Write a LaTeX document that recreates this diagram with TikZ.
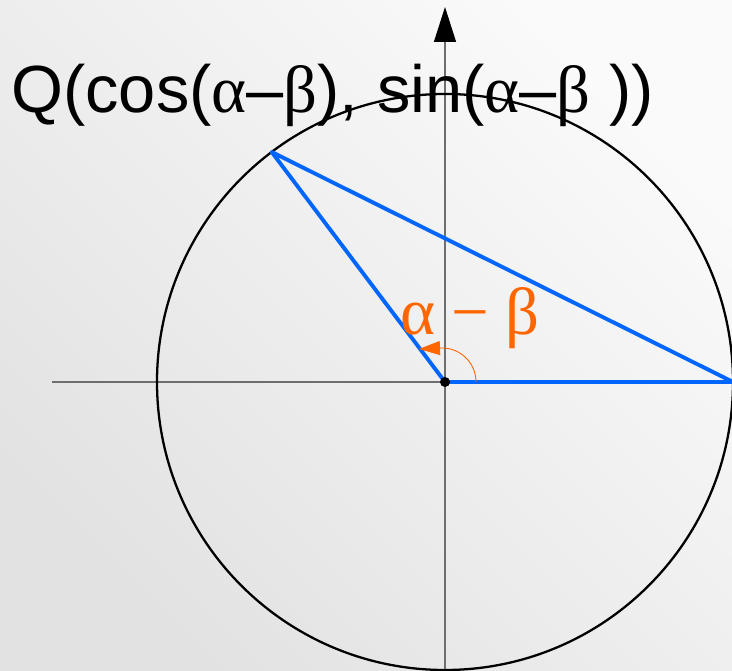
\documentclass[tikz,border=0pt]{standalone}
\usepackage{fontspec}
\usepackage{tikz}
\usetikzlibrary{arrows.meta,positioning}
\setmainfont{Liberation Sans}
\newfontfamily\greekserif{Liberation Serif}
\newcommand{\gk}[1]{{\greekserif #1}}
\definecolor{BgLight}{RGB}{250,250,250}
\definecolor{BgDark}{RGB}{226,226,226}
\definecolor{AxisGray}{RGB}{110,110,110}
\definecolor{ChordBlue}{RGB}{0,102,255}
\definecolor{AngleOrange}{RGB}{255,102,0}
\begin{document}
\begin{tikzpicture}[x=0.02cm, y=0.02cm]
        \shade[top color=BgLight, bottom color=BgDark, shading angle=-45] (-445,-289) rectangle (287,382);
        \useasboundingbox (-445,-289) rectangle (287,382);
        \coordinate (O) at (0,0);
        \coordinate (Q) at (127:288);
        \coordinate (P) at (288,0);
        \draw[AxisGray, line width=0.7pt] (-393,0)--(300,0);
        \draw[AxisGray, line width=0.7pt, -{Triangle[length=0.7cm, width=0.44cm, fill=black, color=black]}] (0,-289)--(0,375);
        \draw[line width=1.3pt] (O) circle (288);
        \draw[ChordBlue, line width=2.2pt, line join=round] (O)--(Q)--(P)--cycle;
        \draw[AngleOrange, line width=0.5pt, -{Triangle[length=0.42cm, width=0.28cm]}] (31,0) arc[start angle=0, end angle=90, radius=34] -- ++(-23,-1);
        \fill (O) circle (5);
        \node[anchor=base west, inner sep=0pt, font=\fontsize{38}{42}\selectfont] (qlabel) at (-434,269) {Q(cos(\gk{α}–\gk{β}), sin(\gk{α}–\gk{β} ))};
        \node[anchor=base, inner sep=0pt, AngleOrange, font=\greekserif\fontsize{38}{42}\selectfont] (anglelabel) at (25,47) {α − β};
      \end{tikzpicture}
\end{document}
